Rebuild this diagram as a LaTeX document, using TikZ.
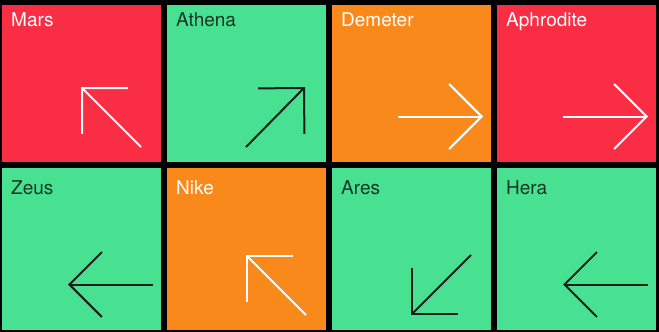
\documentclass[tikz,border=0pt]{standalone}
\usepackage{fontspec}
\setmainfont{TeX Gyre Heros}
\usetikzlibrary{arrows.meta,calc,positioning}
\definecolor{tileRed}{RGB}{249,45,67}
\definecolor{tileGreen}{RGB}{72,225,145}
\definecolor{tileOrange}{RGB}{250,137,27}
\definecolor{inkDark}{RGB}{28,30,28}
\definecolor{textDark}{RGB}{26,52,38}

\begin{document}
\begin{tikzpicture}[
  x=1pt, y=-1pt,
  node distance=6pt,
  tile/.style={minimum width=159pt, minimum height=162pt, inner sep=0pt, outer sep=0pt, anchor=north west},
  godname/.style={anchor=base west, inner sep=0pt, font=\fontsize{19}{21}\selectfont},
  glyph/.style={line width=2pt, -{Straight Barb[length=32.5pt, width=65pt, line width=2pt]}}
]
  \fill[black] (0,0) rectangle (659,332);
  \begin{scope}
    \clip (0,5) rectangle (659,332);
    \node[tile, fill=tileRed] (mars) at (2,0) {};
    \node[tile, fill=tileGreen, right=of mars] (athena) {};
    \node[tile, fill=tileOrange, right=of athena] (demeter) {};
    \node[tile, fill=tileRed, right=of demeter] (aphrodite) {};
    \node[tile, fill=tileGreen, below=of mars] (zeus) {};
    \node[tile, fill=tileOrange, right=of zeus] (nike) {};
    \node[tile, fill=tileGreen, right=of nike] (ares) {};
    \node[tile, fill=tileGreen, right=of ares] (hera) {};
  \end{scope}

  \node[godname, text=white] (marsName) at ($(mars.north west)+(9,26)$) {Mars};
  \node[godname, text=textDark] (athenaName) at ($(athena.north west)+(9,26)$) {Athena};
  \node[godname, text=white] (demeterName) at ($(demeter.north west)+(9,26)$) {Demeter};
  \node[godname, text=white] (aphroditeName) at ($(aphrodite.north west)+(9,26)$) {Aphrodite};
  \node[godname, text=textDark] (zeusName) at ($(zeus.north west)+(9,26)$) {Zeus};
  \node[godname, text=white] (nikeName) at ($(nike.north west)+(9,26)$) {Nike};
  \node[godname, text=textDark] (aresName) at ($(ares.north west)+(9,26)$) {Ares};
  \node[godname, text=textDark] (heraName) at ($(hera.north west)+(9,26)$) {Hera};

  \draw[glyph, white] ($(mars.north west)+(139,147)$) -- ($(mars.north west)+(79,87)$);
  \draw[glyph, inkDark] ($(athena.north west)+(79,147)$) -- ($(athena.north west)+(138,87)$);
  \draw[glyph, white] ($(demeter.north west)+(66,116.5)$) -- ($(demeter.north west)+(151,116.5)$);
  \draw[glyph, white] ($(aphrodite.north west)+(66,116.5)$) -- ($(aphrodite.north west)+(151,116.5)$);
  \draw[glyph, inkDark] ($(zeus.north west)+(151,116.5)$) -- ($(zeus.north west)+(66,116.5)$);
  \draw[glyph, white] ($(nike.north west)+(139,147)$) -- ($(nike.north west)+(79,87)$);
  \draw[glyph, inkDark] ($(ares.north west)+(139,87)$) -- ($(ares.north west)+(79,147)$);
  \draw[glyph, inkDark] ($(hera.north west)+(151,116.5)$) -- ($(hera.north west)+(66,116.5)$);
\end{tikzpicture}
\end{document}
